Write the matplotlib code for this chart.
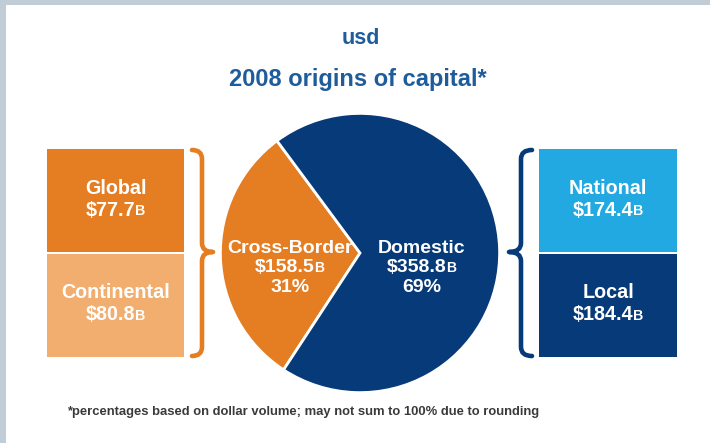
import matplotlib.pyplot as plt
from matplotlib.patches import Rectangle, PathPatch
from matplotlib.path import Path

plt.rcParams['font.family'] = ['Liberation Sans', 'DejaVu Sans']

W, H = 710, 443

# data
title_top = 'usd'
title = '2008 origins of capital*'
footnote = '*percentages based on dollar volume; may not sum to 100% due to rounding'

pie_labels = ['Cross-Border', 'Domestic']
pie_values = [158.5, 358.8]
pie_pcts = ['31%', '69%']

left_labels = ['Global', 'Continental']
left_values = [77.7, 80.8]
right_labels = ['National', 'Local']
right_values = [174.4, 184.4]

# colours
orange = '#e57d22'
light_orange = '#f1ae6f'
light_blue = '#23a9e1'
navy = '#073a78'
title_blue = '#1f5c9b'
border = '#c0ccd6'

fig = plt.figure(figsize=(W / 100, H / 100), dpi=100)
fig.patch.set_facecolor('white')
ax = fig.add_axes([0, 0, 1, 1])
ax.set_xlim(0, W)
ax.set_ylim(H, 0)
ax.axis('off')

# grey frame on left and top
ax.add_patch(Rectangle((0, 0), 6, H, color=border, lw=0))
ax.add_patch(Rectangle((0, 0), W, 5, color=border, lw=0))

ax.text(361, 38, title_top, ha='center', va='center', fontsize=15.5,
        fontweight='bold', color=title_blue)
ax.text(358, 79, title, ha='center', va='center', fontsize=17,
        fontweight='bold', color=title_blue)
ax.text(67, 412, footnote, ha='left', va='center', fontsize=9.35,
        fontweight='bold', color='#3a3a3a')


def money(x, y, v, fs=14.2):
    # value with a small "B" after it
    t = ax.text(x - 5, y, f'${v}', ha='center', va='center', fontsize=fs,
                fontweight='bold', color='white', zorder=5)
    ax.annotate('B', xy=(1, 0), xycoords=t, xytext=(-0.3, 0.8),
                textcoords='offset points', ha='left', va='bottom',
                fontsize=fs * 0.72, fontweight='bold', color='white', zorder=5)


def brace(x0, xv, xt, y0, y1, ym, color, r=9):
    verts = [(x0, y0), (xv, y0), (xv, y0 + r),
             (xv, ym - r), (xv, ym), (xt, ym),
             (xv, ym), (xv, ym + r),
             (xv, y1 - r), (xv, y1), (x0, y1)]
    codes = [Path.MOVETO, Path.CURVE3, Path.CURVE3,
             Path.LINETO, Path.CURVE3, Path.CURVE3,
             Path.CURVE3, Path.CURVE3,
             Path.LINETO, Path.CURVE3, Path.CURVE3]
    ax.add_patch(PathPatch(Path(verts, codes), fill=False, edgecolor=color,
                           lw=3.3, capstyle='round', joinstyle='round'))


# left boxes
box_cols = [orange, light_orange]
for i, (lab, val) in enumerate(zip(left_labels, left_values)):
    y = 149 + i * 105
    ax.add_patch(Rectangle((47, y), 137, 103, color=box_cols[i], lw=0))
    ax.text(115.5, y + 39, lab, ha='center', va='center', fontsize=14.2,
            fontweight='bold', color='white')
    money(115.5, y + 61, val)

# right boxes
box_cols = [light_blue, navy]
for i, (lab, val) in enumerate(zip(right_labels, right_values)):
    y = 149 + i * 105
    ax.add_patch(Rectangle((539, y), 138, 103, color=box_cols[i], lw=0))
    ax.text(608, y + 39, lab, ha='center', va='center', fontsize=14.2,
            fontweight='bold', color='white')
    money(608, y + 61, val)

brace(192, 202, 213, 150, 356, 252, orange)
brace(532, 521, 509, 150, 356, 252, navy)

# pie
pax = fig.add_axes([219 / W, (H - 394) / H, 282 / W, 282 / H])
pax.pie(pie_values, colors=[orange, navy], startangle=126.5,
        counterclock=True, radius=1,
        wedgeprops=dict(edgecolor='white', linewidth=2))
pax.set_xlim(-1.01, 1.01)
pax.set_ylim(-1.01, 1.01)
pax.axis('off')

ax.set_zorder(2)
ax.patch.set_visible(False)
for cx, lab, val, pct in zip([290, 422], pie_labels, pie_values, pie_pcts):
    ax.text(cx, 248, lab, ha='center', va='center', fontsize=14,
            fontweight='bold', color='white', zorder=5)
    money(cx, 268, val, fs=14)
    ax.text(cx, 287, pct, ha='center', va='center', fontsize=14,
            fontweight='bold', color='white', zorder=5)

fig.savefig('out.png', dpi=100, facecolor='white')
